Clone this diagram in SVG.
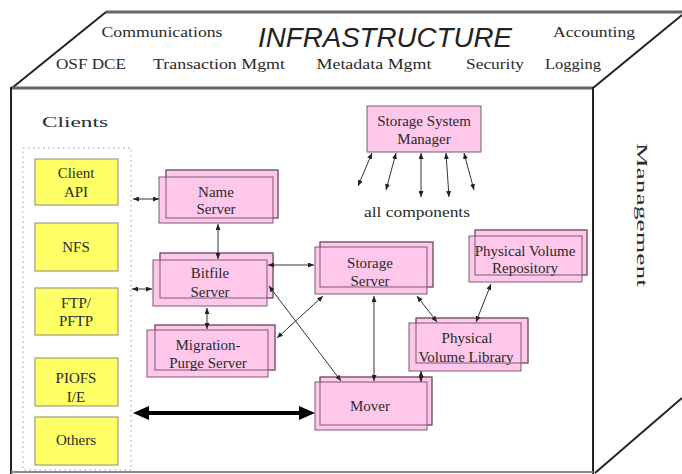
<svg xmlns="http://www.w3.org/2000/svg" width="682" height="474" viewBox="0 0 682 474">
<defs>
<style>
.t{font-family:"Liberation Serif","Times New Roman",serif;font-size:15px;fill:#2a2a2a;text-anchor:middle}
.pk{fill:#ffc8ea;stroke:#7a5a72;stroke-width:1}
.pko{fill:none;stroke:#7a5a72;stroke-width:1}
.yl{fill:#ffff66;stroke:#8c8c6c;stroke-width:1}
.c{stroke:#333;stroke-width:1;fill:none;marker-start:url(#a);marker-end:url(#a)}
.edge{stroke:#222;stroke-width:2;fill:none}
.gedge{stroke:#666;stroke-width:3;fill:none}
</style>
<marker id="a" viewBox="0 0 6 5" refX="6" refY="2.5" markerWidth="6" markerHeight="5" markerUnits="userSpaceOnUse" orient="auto-start-reverse">
<path d="M0,0 L6,2.5 L0,5 z" fill="#222"/>
</marker>
<marker id="b" viewBox="0 0 16 14" refX="8" refY="7" markerWidth="16" markerHeight="14" markerUnits="userSpaceOnUse" orient="auto-start-reverse">
<path d="M0,0 L16,7 L0,14 z" fill="#000"/>
</marker>
</defs>
<rect width="682" height="474" fill="#fff"/>

<g id="cube">
<line class="gedge" x1="106" y1="12" x2="682" y2="12"/>
<line class="edge" x1="12" y1="88" x2="106" y2="12"/>
<line class="edge" x1="682" y1="15" x2="593" y2="88"/>
<line class="gedge" x1="11" y1="88" x2="593" y2="88"/>
<line class="edge" x1="11" y1="87" x2="11" y2="474"/>
<line class="edge" x1="593" y1="87" x2="593" y2="474"/>
<line stroke="#888" stroke-width="2" x1="11" y1="472" x2="593" y2="472"/>
<line class="edge" x1="595" y1="473" x2="682" y2="398"/>
</g>

<g id="infrastructure">
<text x="162" y="37" class="t" font-size="16" textLength="121" lengthAdjust="spacingAndGlyphs">Communications</text>
<text x="385" y="47" style="font-family:'Liberation Sans',Arial,sans-serif;font-size:27px;font-style:italic;fill:#222;text-anchor:middle" textLength="254" lengthAdjust="spacingAndGlyphs">INFRASTRUCTURE</text>
<text x="594" y="37" class="t" font-size="16" textLength="82" lengthAdjust="spacingAndGlyphs">Accounting</text>
<text x="91" y="69" class="t" font-size="16" textLength="70" lengthAdjust="spacingAndGlyphs">OSF DCE</text>
<text x="219" y="69" class="t" font-size="16" textLength="132" lengthAdjust="spacingAndGlyphs">Transaction Mgmt</text>
<text x="374" y="69" class="t" font-size="16" textLength="115" lengthAdjust="spacingAndGlyphs">Metadata Mgmt</text>
<text x="495" y="69" class="t" font-size="16" textLength="58" lengthAdjust="spacingAndGlyphs">Security</text>
<text x="573" y="69" class="t" font-size="16" textLength="56" lengthAdjust="spacingAndGlyphs">Logging</text>
</g>

<g id="management">
<text class="t" font-size="22" transform="translate(637,215) rotate(90)" textLength="144" lengthAdjust="spacingAndGlyphs">Management</text>
</g>

<g id="clients">
<text x="75" y="127" class="t" font-size="22" textLength="66" lengthAdjust="spacingAndGlyphs">Clients</text>
<rect x="23" y="148" width="108" height="322" fill="none" stroke="#999" stroke-width="1" stroke-dasharray="1.5 3.5"/>
</g>

<g id="client-api"><rect class="yl" x="35" y="159" width="83" height="46"/><text class="t" x="76" y="178">Client</text><text class="t" x="76" y="197">API</text></g>
<g id="nfs"><rect class="yl" x="35" y="223" width="83" height="48"/><text class="t" x="76" y="252">NFS</text></g>
<g id="ftp"><rect class="yl" x="35" y="288" width="83" height="47"/><text class="t" x="76" y="308">FTP/</text><text class="t" x="76" y="326">PFTP</text></g>
<g id="piofs"><rect class="yl" x="35" y="358" width="83" height="48"/><text class="t" x="76" y="383">PIOFS</text><text class="t" x="76" y="402">I/E</text></g>
<g id="others"><rect class="yl" x="35" y="417" width="83" height="48"/><text class="t" x="76" y="445">Others</text></g>

<g id="name-server">
<rect class="pk" x="166" y="170" width="112" height="48"/>
<rect class="pk" x="159" y="177" width="114" height="46"/>
<rect class="pko" x="166" y="170" width="112" height="48"/>
<text class="t" x="216" y="197">Name</text><text class="t" x="216" y="214">Server</text>
</g>
<g id="bitfile-server">
<rect class="pk" x="160" y="253" width="113" height="45"/>
<rect class="pk" x="153" y="260" width="114" height="46"/>
<rect class="pko" x="160" y="253" width="113" height="45"/>
<text class="t" x="210" y="278">Bitfile</text><text class="t" x="210" y="297">Server</text>
</g>
<g id="migration-purge-server">
<rect class="pk" x="155" y="325" width="120" height="45"/>
<rect class="pk" x="147" y="330" width="121" height="47"/>
<rect class="pko" x="155" y="325" width="120" height="45"/>
<text class="t" x="208" y="350">Migration-</text><text class="t" x="208" y="368">Purge Server</text>
</g>
<g id="storage-server">
<rect class="pk" x="320" y="242" width="113" height="45"/>
<rect class="pk" x="315" y="247" width="112" height="47"/>
<rect class="pko" x="320" y="242" width="113" height="45"/>
<text class="t" x="370" y="268">Storage</text><text class="t" x="370" y="286">Server</text>
</g>
<g id="mover">
<rect class="pk" x="320" y="377" width="112" height="48"/>
<rect class="pk" x="315" y="382" width="112" height="48"/>
<rect class="pko" x="320" y="377" width="112" height="48"/>
<text class="t" x="370" y="411">Mover</text>
</g>
<g id="physical-volume-library">
<rect class="pk" x="416" y="318" width="112" height="45"/>
<rect class="pk" x="409" y="323" width="112" height="48"/>
<rect class="pko" x="416" y="318" width="112" height="45"/>
<text class="t" x="467" y="343">Physical</text><text class="t" x="466" y="362">Volume Library</text>
</g>
<g id="physical-volume-repository">
<rect class="pk" x="475" y="230" width="112" height="45"/>
<rect class="pk" x="469" y="236" width="113" height="46"/>
<rect class="pko" x="475" y="230" width="112" height="45"/>
<text class="t" x="525" y="256">Physical Volume</text><text class="t" x="525" y="273">Repository</text>
</g>
<g id="storage-system-manager">
<rect class="pk" x="367" y="106" width="114" height="46"/>
<text class="t" x="424" y="126">Storage System</text><text class="t" x="424" y="144">Manager</text>
</g>
<g id="all-components">
<text class="t" x="417" y="217" font-size="16" textLength="106" lengthAdjust="spacingAndGlyphs">all components</text>
</g>

<g id="connectors">
<line class="c" x1="133" y1="199" x2="159" y2="199"/>
<line class="c" x1="218" y1="224" x2="218" y2="259"/>
<line class="c" x1="132" y1="289" x2="152" y2="289"/>
<line class="c" x1="268" y1="265" x2="314" y2="265"/>
<line class="c" x1="207" y1="308" x2="207" y2="329"/>
<line class="c" x1="323" y1="296" x2="277" y2="338"/>
<line class="c" x1="269" y1="286" x2="341" y2="381"/>
<line class="c" x1="374" y1="296" x2="374" y2="381"/>
<line class="c" x1="417" y1="296" x2="437" y2="322"/>
<line class="c" x1="491" y1="284" x2="476" y2="322"/>
<line class="c" x1="421" y1="371" x2="421" y2="382"/>
<line class="c" x1="372" y1="153" x2="358" y2="186"/>
<line class="c" x1="396" y1="153" x2="386" y2="190"/>
<line class="c" x1="421" y1="153" x2="421" y2="197"/>
<line class="c" x1="446" y1="153" x2="449" y2="197"/>
<line class="c" x1="464" y1="153" x2="474" y2="190"/>
<line x1="141" y1="413" x2="307" y2="413" stroke="#000" stroke-width="4" marker-start="url(#b)" marker-end="url(#b)"/>
</g>
</svg>
